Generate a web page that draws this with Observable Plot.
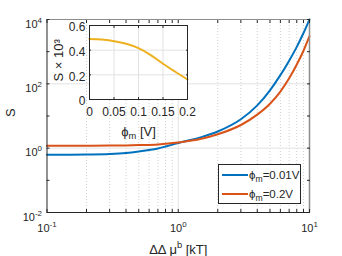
<!DOCTYPE html>
<html><head><meta charset="utf-8">
<script src="https://cdn.jsdelivr.net/npm/d3@7"></script>
<script src="https://cdn.jsdelivr.net/npm/@observablehq/plot@0.6"></script>
<style>
body{margin:0;background:#fff;}
#wrap{position:relative;width:342px;height:256px;font-family:"Liberation Sans",Arial,sans-serif;color:#262626;}
#wrap svg{position:absolute;overflow:visible;}
#legend{position:absolute;left:218px;top:164px;width:83px;height:40px;border:1px solid #262626;background:#fff;box-sizing:border-box;font-size:11.5px;padding-top:1px;}
#legend .row{display:flex;align-items:center;height:18.5px;}
#legend .sw{display:inline-block;width:26px;height:2px;margin-left:3px;margin-right:1px;}
#legend sub{font-size:75%;vertical-align:-0.3em;line-height:0;}
</style></head><body><div id="wrap"></div>
<script>
// ---- data ----
const dmu    = [0.1, 0.15, 0.2, 0.3, 0.4, 0.5, 0.7, 1, 1.5, 2, 3, 4, 5, 6, 7, 8, 9, 10];
const sLow   = [0.62, 0.625, 0.635, 0.66, 0.71, 0.79, 0.98, 1.45, 2.2, 3.3, 7.9, 21.4, 63, 186, 525, 1410, 3800, 10000]; // phi_m = 0.01 V
const sHigh  = [1.18, 1.185, 1.19, 1.2, 1.22, 1.25, 1.31, 1.5, 1.95, 2.7, 5.25, 11, 24, 57.5, 148, 398, 1070, 3020]; // phi_m = 0.2 V
const phi    = [0, 0.025, 0.05, 0.075, 0.1, 0.125, 0.15, 0.175, 0.2];
const sPhi   = [0.49, 0.486, 0.472, 0.452, 0.416, 0.36, 0.29, 0.225, 0.162];
const seriesNames  = ["ϕ_{m}=0.01V", "ϕ_{m}=0.2V"];
const seriesColors = ["#0072BD", "#D95319"];
const insetColor   = "#EDB120";
const xMajor = [0.1, 1, 10];
const xMajorLabels = ["10^{-1}", "10^{0}", "10^{1}"];
const xMinor = [0.2,0.3,0.4,0.5,0.6,0.7,0.8,0.9,2,3,4,5,6,7,8,9];
const yMajor = [0.01, 1, 100, 10000];
const yMajorLabels = ["10^{-2}", "10^{0}", "10^{2}", "10^{4}"];
const yMinor = [0.1, 10, 1000];
const phiTicks = [0, 0.05, 0.1, 0.15, 0.2];
const phiTickLabels = ["0", "0.05", "0.1", "0.15", "0.2"];
const sTicks = [0, 0.2, 0.4, 0.6];
const sTickLabels = ["0", "0.2", "0.4", "0.6"];
const xLabel = "ΔΔ μ^{b} [kT]";
const yLabel = "S";
const insetXLabel = "ϕ_{m} [V]";
const insetYLabel = "S × 10³";

const font = "'Liberation Sans', Arial, sans-serif";
const ink = "#262626";
const lowRows  = dmu.map((x, i) => ({x, s: sLow[i]}));
const highRows = dmu.map((x, i) => ({x, s: sHigh[i]}));
const insetRows = phi.map((p, i) => ({p, s: sPhi[i]}));
const lab = (ticks, labels) => d => labels[ticks.indexOf(d)];

const main = Plot.plot({
  width: 342, height: 256,
  marginLeft: 46.5, marginRight: 33, marginTop: 19, marginBottom: 44,
  style: {fontFamily: font, fontSize: "11px", color: ink, background: "transparent"},
  x: {type: "log", domain: [0.1, 10]},
  y: {type: "log", domain: [0.01, 10000]},
  marks: [
    Plot.ruleX(xMinor, {stroke: "#c4c4c4", strokeDasharray: "1,2", strokeWidth: 0.8}),
    Plot.ruleX([1], {stroke: "#e2e2e2"}),
    Plot.ruleY([1, 100], {stroke: "#e2e2e2"}),
    Plot.line(lowRows, {x: "x", y: "s", stroke: seriesColors[0], strokeWidth: 2, curve: "monotone-x"}),
    Plot.line(highRows, {x: "x", y: "s", stroke: seriesColors[1], strokeWidth: 2, curve: "monotone-x"}),
    Plot.frame({stroke: ink}),
    Plot.ruleX([10], {stroke: "#8c8c8c", strokeWidth: 1.5}),
    Plot.ruleY([10000], {stroke: "#8c8c8c", strokeWidth: 1.2}),
    Plot.axisX(xMajor.concat(xMinor), {anchor: "bottom", tickSize: -3, tickFormat: () => "", label: null, stroke: ink}),
    Plot.axisX(xMajor.concat(xMinor), {anchor: "top", tickSize: -3, tickFormat: () => "", label: null, stroke: ink}),
    Plot.axisY(yMajor.concat(yMinor), {anchor: "left", tickSize: -3, tickFormat: () => "", label: null, stroke: ink}),
    Plot.axisY(yMajor.concat(yMinor), {anchor: "right", tickSize: -3, tickFormat: () => "", label: null, stroke: ink}),
    Plot.axisX(xMajor, {anchor: "bottom", tickSize: 0, tickPadding: 12, tickFormat: lab(xMajor, xMajorLabels), label: null, fill: ink}),
    Plot.axisY(yMajor, {anchor: "left", tickSize: 0, tickPadding: 5, dy: 4.5, tickFormat: lab(yMajor, yMajorLabels), label: null, fill: ink}),
    Plot.text([xLabel], {frameAnchor: "bottom", dy: 41, lineAnchor: "bottom", textAnchor: "middle", fontSize: 13, fill: ink}),
    Plot.text([yLabel], {frameAnchor: "left", dx: -31.5, rotate: -90, lineAnchor: "bottom", textAnchor: "middle", fontSize: 13, fill: ink})
  ]
});

const inset = Plot.plot({
  width: 150, height: 122,
  marginLeft: 44, marginRight: 8, marginTop: 10, marginBottom: 38,
  style: {fontFamily: font, fontSize: "12px", color: ink, background: "transparent"},
  x: {domain: [0, 0.2]},
  y: {domain: [0, 0.6]},
  marks: [
    Plot.frame({fill: "white", stroke: null}),
    Plot.ruleX([0.05, 0.1, 0.15], {stroke: "#e2e2e2"}),
    Plot.ruleY([0.2, 0.4], {stroke: "#e2e2e2"}),
    Plot.line(insetRows, {x: "p", y: "s", stroke: insetColor, strokeWidth: 2, curve: "monotone-x"}),
    Plot.frame({stroke: ink}),
    Plot.axisX(phiTicks, {anchor: "bottom", tickSize: -2, tickFormat: () => "", label: null, stroke: ink}),
    Plot.axisX(phiTicks, {anchor: "top", tickSize: -2, tickFormat: () => "", label: null, stroke: ink}),
    Plot.axisY(sTicks, {anchor: "left", tickSize: -2, tickFormat: () => "", label: null, stroke: ink}),
    Plot.axisY(sTicks, {anchor: "right", tickSize: -2, tickFormat: () => "", label: null, stroke: ink}),
    Plot.axisX(phiTicks, {anchor: "bottom", tickSize: 0, tickPadding: 8, tickFormat: lab(phiTicks, phiTickLabels), label: null, fill: ink}),
    Plot.axisY(sTicks, {anchor: "left", tickSize: 0, tickPadding: 4, dy: 2, tickFormat: lab(sTicks, sTickLabels), label: null, fill: ink}),
    Plot.text([insetXLabel], {frameAnchor: "bottom", dy: 36, lineAnchor: "bottom", textAnchor: "middle", fontSize: 13, fill: ink}),
    Plot.text([insetYLabel], {frameAnchor: "left", dx: -26, rotate: -90, lineAnchor: "bottom", textAnchor: "middle", fontSize: 13, fill: ink})
  ]
});

const wrap = document.getElementById("wrap");
main.style.left = "0px"; main.style.top = "0px";
inset.style.left = "45px"; inset.style.top = "15px";
wrap.appendChild(main);
wrap.appendChild(inset);

// turn ^{..} / _{..} into raised / lowered tspans (real text)
function rich(svg) {
  d3.select(svg).selectAll("text").each(function() {
    const t = this.textContent;
    if (!/[\^_]\{/.test(t)) return;
    const fs = parseFloat(getComputedStyle(this).fontSize) || 11;
    const parts = t.split(/([\^_]\{[^}]*\})/);
    this.textContent = "";
    let pending = 0;
    for (const p of parts) {
      if (!p) continue;
      const m = p.match(/^([\^_])\{([^}]*)\}$/);
      const ts = d3.select(this).append("tspan");
      if (m) {
        const shift = m[1] === "^" ? -fs * 0.45 : fs * 0.25;
        ts.text(m[2]).attr("font-size", (fs * 0.72) + "px").attr("dy", (pending + shift) + "px");
        pending = -shift;
      } else {
        ts.text(p);
        if (pending) ts.attr("dy", pending + "px");
        pending = 0;
      }
    }
  });
}
rich(main); rich(inset);

// place a rotated label's box centre where the original has it
function centre(svg, content, cx, cy) {
  const wr = wrap.getBoundingClientRect();
  d3.select(svg).selectAll("text").filter(function() { return this.textContent === content; }).each(function() {
    const r = this.getBoundingClientRect();
    const curX = r.left + r.width / 2 - wr.left;
    const curY = r.top + r.height / 2 - wr.top;
    const g = this.parentNode;
    g.setAttribute("transform", (g.getAttribute("transform") || "") + ` translate(${cx - curX},${cy - curY})`);
  });
}
centre(main, yLabel, 10.5, 112.5);
centre(inset, insetYLabel, 58.5, 60);

const legend = d3.select(wrap).append("div").attr("id", "legend");
seriesNames.forEach((name, i) => {
  const row = legend.append("div").attr("class", "row");
  row.append("span").attr("class", "sw").style("background", seriesColors[i]);
  const m = name.match(/^(.*)_\{([^}]*)\}(.*)$/);
  const sp = row.append("span");
  sp.append("span").text(m[1]);
  sp.append("sub").text(m[2]);
  sp.append("span").text(m[3]);
});
</script></body></html>
